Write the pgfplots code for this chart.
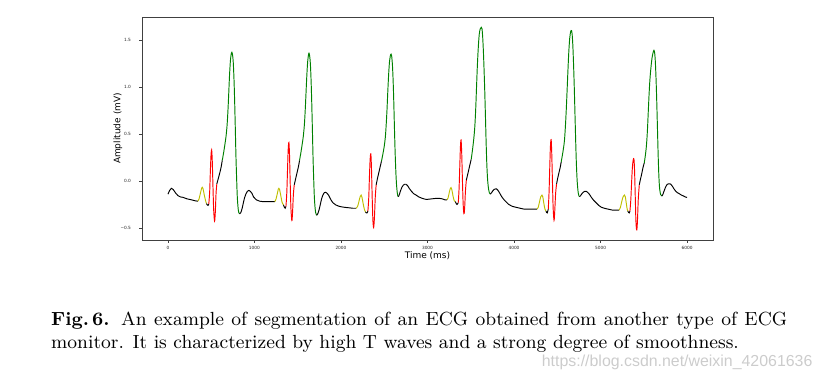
\documentclass[border=0pt]{standalone}
\usepackage{fontspec}
\setmainfont{lmroman9-regular.otf}[BoldFont=lmroman9-bold.otf]
\usepackage{pgfplots}
\pgfplotsset{compat=1.18}
\newfontfamily\dejavu{DejaVu Sans}
\newfontfamily\wmfont{Liberation Sans}
\definecolor{mplg}{rgb}{0,0.5,0}
\definecolor{mply}{rgb}{0.75,0.75,0}
\definecolor{mplr}{rgb}{1,0,0}
\pgfplotsset{ecg/.style={line width=0.95pt, smooth, tension=0.5, mark=none}}
\begin{document}
\begin{tikzpicture}[x=1pt,y=1pt]
\useasboundingbox (0,0) rectangle (822,380);
\begin{axis}[
 at={(142pt,140pt)}, anchor=south west,
 width=571pt, height=223pt, scale only axis,
 xmin=-300, xmax=6300, ymin=-0.628, ymax=1.745,
 axis line style={black!75, line width=0.7pt},
 xtick={0,1000,2000,3000,4000,5000,6000},
 xticklabels={0,1000,2000,3000,4000,5000,6000},
 ytick={-0.5,0,0.5,1,1.5},
 yticklabels={−0.5,0.0,0.5,1.0,1.5},
 tick align=outside, major tick length=3pt,
 xtick pos=bottom, ytick pos=left,
 tick style={black!75, line width=0.6pt},
 tick label style={font=\dejavu\fontsize{4.3}{5}\selectfont, text=black!85},
 yticklabel style={xshift=-4.5pt},
 xlabel={Time (ms)}, ylabel={Amplitude (mV)},
 label style={font=\dejavu\fontsize{9}{11}\selectfont},
 xlabel style={at={(axis description cs:0.5,0)}, anchor=base, yshift=-18.3pt},
 ylabel style={at={(axis description cs:-0.042,0.5)}, anchor=center},
 clip=false,
]
% ---------- beat 1 ----------
\addplot[ecg, black] coordinates {(0,-0.14) (20,-0.10) (39,-0.078) (60,-0.09) (90,-0.13) (116,-0.156) (145,-0.17) (173,-0.174) (220,-0.19) (270,-0.20) (310,-0.21) (345,-0.215)};
\addplot[ecg, mply] coordinates {(345,-0.215) (360,-0.19) (375,-0.13) (390,-0.075) (397,-0.067) (405,-0.08) (420,-0.15) (435,-0.21) (445,-0.24)};
\addplot[ecg, black] coordinates {(445,-0.24) (455,-0.255) (463,-0.26) (472,-0.245)};
\addplot[ecg, mplr] coordinates {(472,-0.245) (482,-0.12) (490,0.10) (498,0.28) (505,0.33) (512,0.22) (520,-0.05) (528,-0.30) (536,-0.41) (541,-0.42) (548,-0.32) (556,-0.13) (565,-0.03)};
\addplot[ecg, black] coordinates {(565,-0.03) (580,0.02) (600,0.09) (615,0.15) (628,0.22)};
\addplot[ecg, mplg] coordinates {(628,0.22) (645,0.31) (660,0.40) (672,0.48) (684,0.60) (694,0.76) (702,0.92) (712,1.13) (722,1.28) (731,1.35) (739,1.37) (747,1.34) (755,1.26) (763,1.09) (770,0.88) (778,0.58) (786,0.26) (794,0.02) (801,-0.16) (809,-0.27) (817,-0.33) (828,-0.35)};
\addplot[ecg, black] coordinates {(828,-0.35) (840,-0.34) (855,-0.30) (870,-0.24) (885,-0.18) (900,-0.14) (918,-0.11) (935,-0.10) (952,-0.11) (970,-0.13) (990,-0.17) (1020,-0.20) (1060,-0.215) (1100,-0.22) (1150,-0.22) (1200,-0.22) (1235,-0.22)};
% ---------- beat 2 ----------
\addplot[ecg, mply] coordinates {(1235,-0.22) (1250,-0.19) (1265,-0.13) (1276,-0.085) (1282,-0.078) (1290,-0.09) (1305,-0.16) (1320,-0.23) (1336,-0.255)};
\addplot[ecg, black] coordinates {(1336,-0.255) (1346,-0.28) (1355,-0.29) (1364,-0.27)};
\addplot[ecg, mplr] coordinates {(1364,-0.27) (1374,-0.12) (1382,0.12) (1390,0.34) (1398,0.41) (1405,0.28) (1413,-0.02) (1421,-0.28) (1429,-0.40) (1434,-0.42) (1441,-0.32) (1450,-0.14) (1460,-0.04)};
\addplot[ecg, black] coordinates {(1460,-0.04) (1475,0.02) (1495,0.10) (1510,0.16) (1521,0.22)};
\addplot[ecg, mplg] coordinates {(1521,0.22) (1538,0.31) (1553,0.40) (1565,0.48) (1577,0.60) (1587,0.76) (1595,0.92) (1605,1.12) (1615,1.27) (1624,1.34) (1630,1.36) (1638,1.33) (1646,1.25) (1654,1.08) (1661,0.87) (1669,0.57) (1677,0.25) (1685,0.01) (1692,-0.17) (1700,-0.28) (1708,-0.34) (1719,-0.365)};
\addplot[ecg, black] coordinates {(1719,-0.365) (1731,-0.35) (1746,-0.31) (1761,-0.25) (1776,-0.19) (1791,-0.15) (1806,-0.125) (1821,-0.12) (1838,-0.13) (1856,-0.15) (1878,-0.19) (1905,-0.23) (1940,-0.255) (1980,-0.27) (2040,-0.28) (2090,-0.285) (2136,-0.29) (2175,-0.29)};
% ---------- beat 3 ----------
\addplot[ecg, mply] coordinates {(2175,-0.29) (2192,-0.27) (2207,-0.22) (2222,-0.165) (2233,-0.15) (2242,-0.17) (2256,-0.24) (2270,-0.30) (2283,-0.33)};
\addplot[ecg, black] coordinates {(2283,-0.33) (2293,-0.34) (2302,-0.34) (2311,-0.32)};
\addplot[ecg, mplr] coordinates {(2311,-0.32) (2321,-0.18) (2329,0.05) (2337,0.23) (2345,0.29) (2352,0.15) (2360,-0.15) (2368,-0.40) (2375,-0.49) (2380,-0.48) (2387,-0.38) (2397,-0.16) (2407,-0.04)};
\addplot[ecg, black] coordinates {(2407,-0.04) (2420,0.02) (2435,0.08) (2450,0.14) (2468,0.21)};
\addplot[ecg, mplg] coordinates {(2468,0.21) (2485,0.29) (2500,0.37) (2512,0.46) (2522,0.59) (2532,0.76) (2540,0.93) (2550,1.12) (2560,1.26) (2570,1.33) (2579,1.35) (2587,1.32) (2595,1.23) (2603,1.06) (2610,0.85) (2618,0.56) (2626,0.30) (2634,0.10) (2642,-0.04) (2650,-0.12) (2657,-0.16) (2664,-0.167)};
\addplot[ecg, black] coordinates {(2664,-0.167) (2676,-0.14) (2690,-0.10) (2705,-0.065) (2720,-0.045) (2735,-0.035) (2752,-0.035) (2770,-0.05) (2790,-0.08) (2815,-0.11) (2840,-0.135) (2868,-0.15) (2900,-0.17) (2940,-0.185) (2980,-0.195) (3002,-0.195) (3050,-0.19) (3100,-0.185) (3137,-0.185) (3170,-0.19) (3200,-0.20) (3225,-0.20)};
% ---------- beat 4 ----------
\addplot[ecg, mply] coordinates {(3225,-0.20) (3238,-0.18) (3252,-0.12) (3264,-0.08) (3272,-0.07) (3281,-0.09) (3295,-0.16) (3309,-0.21) (3322,-0.22)};
\addplot[ecg, black] coordinates {(3322,-0.22) (3332,-0.24) (3341,-0.25) (3356,-0.23)};
\addplot[ecg, mplr] coordinates {(3356,-0.23) (3365,-0.08) (3373,0.15) (3381,0.37) (3388,0.436) (3395,0.31) (3403,0.03) (3411,-0.22) (3418,-0.33) (3424,-0.345) (3431,-0.26) (3439,-0.10) (3449,0.01)};
\addplot[ecg, black] coordinates {(3449,0.01) (3462,0.06) (3477,0.12) (3492,0.18) (3505,0.23)};
\addplot[ecg, mplg] coordinates {(3505,0.23) (3520,0.33) (3535,0.45) (3547,0.58) (3557,0.76) (3566,0.98) (3576,1.22) (3587,1.42) (3598,1.56) (3610,1.62) (3622,1.635) (3630,1.62) (3638,1.53) (3646,1.38) (3654,1.18) (3662,0.95) (3670,0.68) (3678,0.40) (3686,0.17) (3695,0.01) (3705,-0.08) (3715,-0.125) (3726,-0.14)};
\addplot[ecg, black] coordinates {(3726,-0.14) (3740,-0.125) (3755,-0.105) (3770,-0.09) (3785,-0.085) (3799,-0.085) (3815,-0.10) (3835,-0.13) (3860,-0.17) (3885,-0.20) (3907,-0.22) (3940,-0.25) (3980,-0.27) (4023,-0.28) (4070,-0.29) (4119,-0.30) (4180,-0.30) (4230,-0.30) (4265,-0.30)};
% ---------- beat 5 ----------
\addplot[ecg, mply] coordinates {(4265,-0.30) (4280,-0.28) (4295,-0.22) (4310,-0.165) (4323,-0.15) (4333,-0.17) (4345,-0.24) (4358,-0.30) (4369,-0.32)};
\addplot[ecg, black] coordinates {(4369,-0.32) (4377,-0.335) (4384,-0.34) (4396,-0.30)};
\addplot[ecg, mplr] coordinates {(4396,-0.30) (4405,-0.12) (4413,0.14) (4421,0.37) (4429,0.44) (4436,0.30) (4444,0.0) (4452,-0.28) (4460,-0.40) (4465,-0.41) (4472,-0.30) (4481,-0.13) (4492,-0.03)};
\addplot[ecg, black] coordinates {(4492,-0.03) (4505,0.03) (4520,0.09) (4533,0.14) (4545,0.20)};
\addplot[ecg, mplg] coordinates {(4545,0.20) (4560,0.28) (4572,0.35) (4583,0.43) (4594,0.58) (4604,0.76) (4613,0.95) (4623,1.17) (4633,1.37) (4644,1.52) (4655,1.59) (4665,1.60) (4673,1.55) (4681,1.42) (4689,1.22) (4697,0.98) (4705,0.70) (4713,0.42) (4721,0.18) (4730,0.0) (4740,-0.11) (4749,-0.155) (4757,-0.167)};
\addplot[ecg, black] coordinates {(4757,-0.167) (4770,-0.155) (4785,-0.135) (4800,-0.12) (4818,-0.11) (4835,-0.11) (4850,-0.12) (4870,-0.14) (4895,-0.175) (4920,-0.205) (4947,-0.23) (4980,-0.26) (5010,-0.28) (5043,-0.29) (5090,-0.30) (5140,-0.31) (5178,-0.31) (5215,-0.31)};
% ---------- beat 6 ----------
\addplot[ecg, mply] coordinates {(5215,-0.31) (5230,-0.28) (5245,-0.22) (5262,-0.165) (5277,-0.15) (5287,-0.17) (5298,-0.24) (5308,-0.30) (5316,-0.32)};
\addplot[ecg, black] coordinates {(5316,-0.32) (5324,-0.335) (5332,-0.34) (5340,-0.32)};
\addplot[ecg, mplr] coordinates {(5340,-0.32) (5350,-0.20) (5359,-0.02) (5368,0.14) (5377,0.22) (5386,0.235) (5393,0.12) (5401,-0.15) (5408,-0.40) (5414,-0.50) (5420,-0.52) (5427,-0.42) (5436,-0.20) (5448,-0.04)};
\addplot[ecg, black] coordinates {(5448,-0.04) (5462,0.02) (5477,0.08) (5490,0.14) (5505,0.19)};
\addplot[ecg, mplg] coordinates {(5505,0.19) (5518,0.27) (5530,0.37) (5541,0.52) (5551,0.72) (5561,0.92) (5571,1.08) (5582,1.20) (5594,1.30) (5606,1.36) (5617,1.39) (5626,1.36) (5634,1.26) (5642,1.08) (5650,0.84) (5658,0.56) (5666,0.28) (5674,0.06) (5683,-0.08) (5695,-0.145) (5709,-0.16)};
\addplot[ecg, black] coordinates {(5709,-0.16) (5722,-0.14) (5737,-0.10) (5752,-0.065) (5767,-0.04) (5783,-0.03) (5800,-0.03) (5813,-0.035) (5830,-0.055) (5850,-0.085) (5870,-0.11) (5890,-0.125) (5909,-0.135) (5935,-0.15) (5960,-0.16) (5980,-0.17) (6000,-0.175)};
\end{axis}
\node[anchor=north west, inner sep=0pt, text width=736pt, align=justify, font=\fontsize{19}{23}\selectfont] at (51,68)
 {\textbf{Fig.\,6.} An example of segmentation of an ECG obtained from another type of ECG\linebreak monitor. It is characterized by high T waves and a strong degree of smoothness.};
\node[anchor=base west, inner sep=0pt, text=black!20, font=\wmfont\fontsize{15.9}{18}\selectfont] at (541.7,13.3) {https://blog.csdn.net/weixin\_42061636};
\end{tikzpicture}
\end{document}
